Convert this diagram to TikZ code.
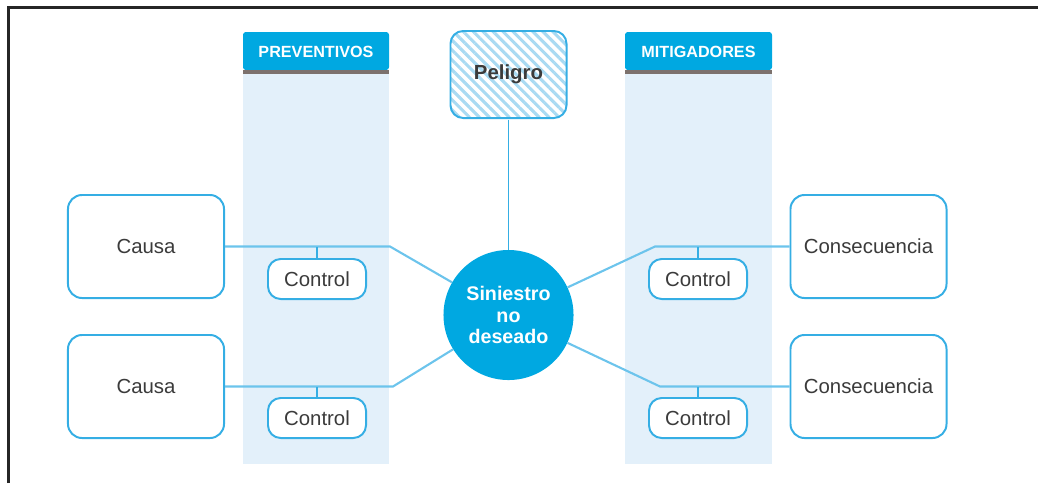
\documentclass[tikz,border=0pt]{standalone}
\usepackage{fontspec}
\setmainfont{Liberation Sans}
\usetikzlibrary{shapes}
\usetikzlibrary{patterns.meta}
\definecolor{bowblue}{HTML}{00A8E1}
\definecolor{boxblue}{HTML}{35AEE4}
\definecolor{lineblue}{HTML}{6CC4EC}
\definecolor{hatchblue}{HTML}{A9DAF2}
\definecolor{colbg}{HTML}{E3F0FA}
\definecolor{hdrline}{HTML}{7C716D}
\definecolor{txtgray}{HTML}{3B3B3B}
\tikzset{
    boxnode/.style = {rectangle, rounded corners=10pt, line width=1.4pt, draw=boxblue, fill=white, align=center, minimum width=3.9cm, minimum height=2.575cm, inner sep=0pt, font=\fontsize{14.5}{17}\selectfont, text=txtgray},
    ctrlnode/.style = {rectangle, rounded corners=9pt, line width=1.4pt, draw=boxblue, fill=white, align=center, minimum width=2.45cm, minimum height=1.0cm, inner sep=0pt, font=\fontsize{14.5}{17}\selectfont, text=txtgray},
    hazardnode/.style = {rectangle, rounded corners=9pt, line width=1.4pt, draw=boxblue, pattern={Lines[angle=-45,distance=5pt,line width=2.2pt]}, pattern color=hatchblue, align=center, minimum width=2.9cm, minimum height=2.175cm, inner sep=0pt, font=\fontsize{14.5}{17}\selectfont\bfseries, text=txtgray},
    eventnode/.style = {circle, fill=bowblue, align=center, minimum size=3.25cm, inner sep=0pt, font=\fontsize{14}{15.5}\selectfont\bfseries, text=white},
    headnode/.style = {align=center, inner sep=0pt, font=\fontsize{11.5}{13}\selectfont\bfseries, text=white},
    edgel/.style = {-, line width=1.5pt, lineblue},
    edget/.style = {-, line width=1.2pt, boxblue},
    framel/.style = {-, line width=1.7pt, black!85}
}

\begin{document}
\begin{tikzpicture}[x=0.025cm,y=-0.025cm]
\useasboundingbox (0,0) rectangle (1038,483);
\draw[framel] (8.5,483) -- (8.5,7.5) -- (1038,7.5);

% columns
\fill[colbg] (243,72) rectangle (389,464);
\fill[colbg] (625,72) rectangle (772,464);
\fill[bowblue, rounded corners=2pt] (243,70) -- (243,32) -- (389,32) -- (389,70) -- cycle;
\fill[bowblue, rounded corners=2pt] (625,70) -- (625,32) -- (772,32) -- (772,70) -- cycle;
\fill[hdrline] (243,70) rectangle (389,74);
\fill[hdrline] (625,70) rectangle (772,74);
\node[headnode] at (316.0,  52.0) (prev) {PREVENTIVOS};
\node[headnode] at (698.5,  52.0) (mitig) {MITIGADORES};

\node[hazardnode] at (508.5,  74.5) (peligro) {Peligro};
\node[eventnode]  at (508.5, 315.0) (siniestro) {Siniestro\\no\\deseado};

\node[boxnode] at (146.0, 246.5) (causaA) {Causa};
\node[boxnode] at (146.0, 386.5) (causaB) {Causa};
\node[boxnode] at (868.5, 246.5) (consA) {Consecuencia};
\node[boxnode] at (868.5, 386.5) (consB) {Consecuencia};

\node[ctrlnode] at (317.0, 279.0) (ctrlA) {Control};
\node[ctrlnode] at (317.0, 418.0) (ctrlB) {Control};
\node[ctrlnode] at (698.0, 279.0) (ctrlC) {Control};
\node[ctrlnode] at (698.0, 418.0) (ctrlD) {Control};

\coordinate (bendA) at (390.0, 246.5);
\coordinate (bendB) at (393.0, 386.5);
\coordinate (bendC) at (655.0, 246.5);
\coordinate (bendD) at (660.0, 386.5);

\draw[edget] (peligro) -- (siniestro);
\draw[edgel] (causaA.east) -- (bendA) -- (siniestro);
\draw[edgel] (causaB.east) -- (bendB) -- (siniestro);
\draw[edgel] (consA.west) -- (bendC) -- (siniestro);
\draw[edgel] (consB.west) -- (bendD) -- (siniestro);

\draw[edget] (ctrlA.north) -- (ctrlA.north |- bendA);
\draw[edget] (ctrlB.north) -- (ctrlB.north |- bendB);
\draw[edget] (ctrlC.north) -- (ctrlC.north |- bendC);
\draw[edget] (ctrlD.north) -- (ctrlD.north |- bendD);

\end{tikzpicture}
\end{document}
